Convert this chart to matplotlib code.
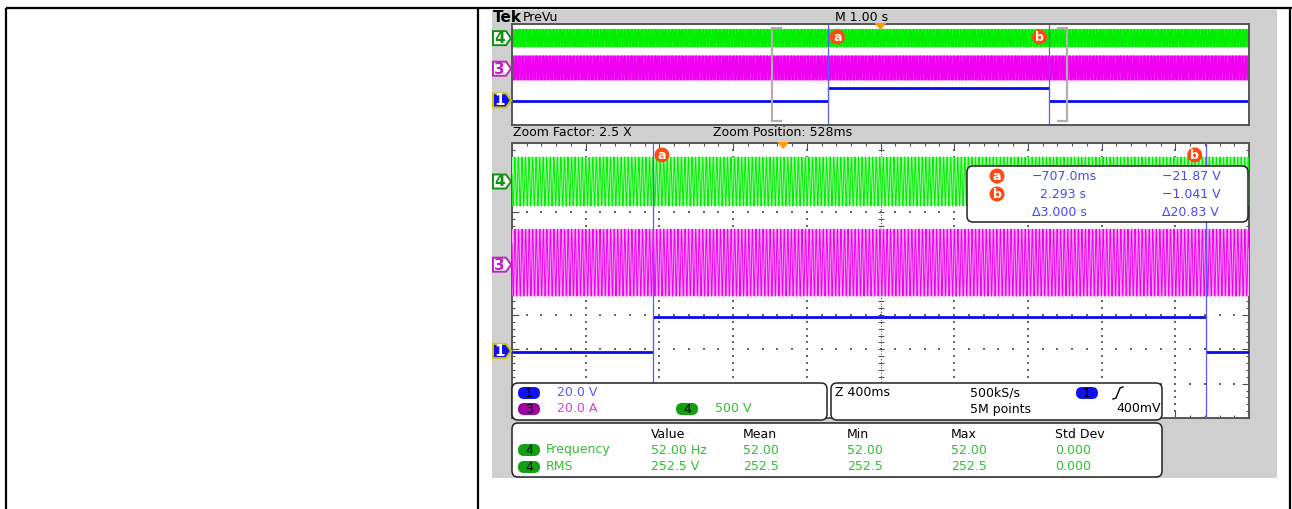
import numpy as np
import matplotlib.pyplot as plt
from matplotlib.patches import FancyBboxPatch, Polygon, Rectangle, Circle

W, H = 1292, 509

# scope settings
prevu_tdiv = 1.0      # s/div (M 1.00 s)
zoom_tdiv = 0.4       # s/div (Z 400ms)
zoom_pos = 0.528      # s
cursor_a = -0.707     # s
cursor_b = 2.293      # s

ch1_scale = 20.0      # V/div
ch3_scale = 20.0      # A/div
ch4_scale = 500.0     # V/div
ch1_offset = -2.05    # div
ch3_offset = 0.46
ch4_offset = 2.88

ch1_low = -0.6        # V
ch1_high = 19.6       # V
ch3_dc = 1.2          # A
ch3_peak = 19.5       # A
ch4_freq = 52.0       # Hz
ch4_rms = 252.5       # V

header_cols = ["Value", "Mean", "Min", "Max", "Std Dev"]
freq_row = ["52.00 Hz", "52.00", "52.00", "52.00", "0.000"]
rms_row = ["252.5 V", "252.5", "252.5", "252.5", "0.000"]
cursor_rows = [("a", "\u2212707.0ms", "\u221221.87 V"),
               ("b", "2.293 s", "\u22121.041 V"),
               ("", "\u03943.000 s", "\u039420.83 V")]

GREEN = "#00ee00"
MAG = "#f000f0"
BLUE = "#0a0af0"
CURS = "#5a5aff"
ORANGE = "#ff4a10"
FONT = "DejaVu Sans"

fig = plt.figure(figsize=(W / 100, H / 100), dpi=100)
fig.patch.set_facecolor("white")


def px_axes(x0, y0, x1, y1, z):
    return fig.add_axes([x0 / W, 1 - y1 / H, (x1 - x0) / W, (y1 - y0) / H], zorder=z)


bg = px_axes(0, 0, W, H, 0)
bg.set_xlim(0, W)
bg.set_ylim(H, 0)
bg.axis("off")

# table borders
for seg in [([6, W], [8, 8]), ([6, 6], [8, H]), ([478, 478], [8, H]), ([1290, 1290], [8, H])]:
    bg.plot(seg[0], seg[1], color="black", lw=1.6, solid_capstyle="butt")

bg.add_patch(Rectangle((492, 10), 1277 - 492, 478 - 10, facecolor="#cfcfcf", edgecolor="none"))
bg.add_patch(Rectangle((512, 24), 1249 - 512, 125 - 24, facecolor="white", edgecolor="none"))
bg.text(493, 17, "Tek", fontsize=11, fontweight="bold", va="center", family=FONT)
bg.text(523, 17, "PreVu", fontsize=9, va="center", family=FONT)
bg.text(835, 17, "M 1.00 s", fontsize=9, va="center", family=FONT)
bg.text(513, 133, "Zoom Factor: 2.5 X", fontsize=9, va="center", family=FONT)
bg.text(713, 133, "Zoom Position: 528ms", fontsize=9, va="center", family=FONT)

# time and trace data
t = np.arange(-5.0, 5.0, 1.0 / (ch4_freq * 40))
v4 = ch4_rms * np.sqrt(2) * np.sin(2 * np.pi * ch4_freq * t)
i3 = ch3_dc + ch3_peak * np.sin(2 * np.pi * ch4_freq * t - 0.3)
y4 = ch4_offset + v4 / ch4_scale
y3 = ch3_offset + i3 / ch3_scale
y1_low = ch1_offset + ch1_low / ch1_scale
y1_high = ch1_offset + ch1_high / ch1_scale


def draw_traces(ax, t0, t1, lw, fill):
    if fill:
        ax.fill_between(t, ch4_offset - ch4_rms * np.sqrt(2) / ch4_scale,
                        ch4_offset + ch4_rms * np.sqrt(2) / ch4_scale,
                        color="#a8f5a8", lw=0)
        ax.fill_between(t, ch3_offset + (ch3_dc - ch3_peak) / ch3_scale,
                        ch3_offset + (ch3_dc + ch3_peak) / ch3_scale,
                        color="#f5a8f5", lw=0)
    ax.plot(t, y4, color=GREEN, lw=lw)
    ax.plot(t, y3, color=MAG, lw=lw)
    ax.hlines([y1_low, y1_high, y1_low], [t0, cursor_a, cursor_b], [cursor_a, cursor_b, t1],
              color=BLUE, lw=2.0)
    ax.vlines([cursor_a, cursor_b], min(y1_low, y1_high), max(y1_low, y1_high), color=BLUE, lw=0.8)
    ax.axvline(cursor_a, color=CURS, lw=0.9)
    ax.axvline(cursor_b, color=CURS, lw=0.9)
    ax.set_xlim(t0, t1)
    ax.set_ylim(-4, 4)
    ax.axis("off")


# PreVu window
pv = px_axes(512, 24, 1249, 125, 2)
pv.patch.set_alpha(0)
draw_traces(pv, -5 * prevu_tdiv, 5 * prevu_tdiv, 0.6, False)
pv.plot([zoom_pos - 5 * zoom_tdiv] * 2, [-3.7, 3.7], color="#b0b0b0", lw=1.6)
pv.plot([zoom_pos + 5 * zoom_tdiv] * 2, [-3.7, 3.7], color="#b0b0b0", lw=1.6)
for xx, d in [(zoom_pos - 5 * zoom_tdiv, 0.12), (zoom_pos + 5 * zoom_tdiv, -0.12)]:
    pv.plot([xx, xx + d], [3.7, 3.7], color="#b0b0b0", lw=1.6)
    pv.plot([xx, xx + d], [-3.7, -3.7], color="#b0b0b0", lw=1.6)
pv_frame = px_axes(512, 24, 1249, 125, 3)
pv_frame.patch.set_alpha(0)
pv_frame.set_xticks([])
pv_frame.set_yticks([])
for s in pv_frame.spines.values():
    s.set_color("#555555")
    s.set_linewidth(1.4)

# main zoom window: graticule
grid = px_axes(512, 143, 1249, 418, 1)
grid.set_facecolor("white")
grid.set_xlim(0, 10)
grid.set_ylim(-4, 4)
gx = [(x, y) for x in range(1, 10) for y in np.arange(-4, 4.01, 0.2) if x != 5]
gy = [(x, y) for y in range(-3, 4) for x in np.arange(0, 10.01, 0.2) if y != 0]
pts = np.array(gx + gy)
grid.scatter(pts[:, 0], pts[:, 1], s=0.7, color="#666666", marker="s", lw=0)
cx = np.arange(0, 10.01, 0.2)
cy = np.arange(-4, 4.01, 0.2)
grid.plot([0, 10], [0, 0], color="#505050", lw=0.8, ls=(0, (1, 1.5)))
grid.plot([5, 5], [-4, 4], color="#505050", lw=0.8, ls=(0, (1, 1.5)))
grid.scatter(cx, np.zeros_like(cx), marker="|", s=14, color="#505050", lw=0.7)
grid.scatter(np.full_like(cy, 5), cy, marker="_", s=14, color="#505050", lw=0.7)
grid.set_xticks(range(11))
grid.set_yticks(range(-4, 5))
grid.set_xticks(cx, minor=True)
grid.set_yticks(cy, minor=True)
grid.tick_params(which="both", direction="in", top=True, right=True, labelbottom=False,
                 labelleft=False, color="#505050", width=0.8)
grid.tick_params(which="major", length=5)
grid.tick_params(which="minor", length=2.5)
for s in grid.spines.values():
    s.set_color("#555555")
    s.set_linewidth(1.4)

main = px_axes(512, 143, 1249, 418, 2)
main.patch.set_alpha(0)
draw_traces(main, zoom_pos - 5 * zoom_tdiv, zoom_pos + 5 * zoom_tdiv, 0.7, True)

# overlay for markers, readouts and boxes
ov = px_axes(0, 0, W, H, 10)
ov.set_xlim(0, W)
ov.set_ylim(H, 0)
ov.axis("off")
ov.patch.set_alpha(0)


def div_to_px(div, top, bottom):
    return top + (4 - div) / 8 * (bottom - top)


def ch_marker(y, label, edge, face, tc):
    ov.add_patch(Polygon([(493, y - 7), (506, y - 7), (511, y), (506, y + 7), (493, y + 7)],
                         closed=True, facecolor=face, edgecolor=edge, lw=1.4))
    ov.text(499.5, y + 0.5, label, color=tc, fontsize=11, fontweight="bold", ha="center",
            va="center", family=FONT)


for top, bottom in [(24, 125), (143, 418)]:
    ch_marker(div_to_px(ch4_offset, top, bottom), "4", "#109010", "white", "#109010")
    ch_marker(div_to_px(ch3_offset, top, bottom), "3", "#c020c0", "white", "#c020c0")
    ch_marker(div_to_px(ch1_offset, top, bottom), "1", "#d0c000", "#1010f0", "white")


def trig_mark(x, y):
    ov.add_patch(Polygon([(x - 6, y - 4), (x + 6, y - 4), (x, y + 3)], closed=True,
                         facecolor="#ff9a00", edgecolor="none"))


def cursor_dot(x, y, lab):
    ov.add_patch(Circle((x, y), 7.5, facecolor=ORANGE, edgecolor="none"))
    ov.text(x, y + 0.5, lab, color="white", fontsize=9, fontweight="bold", ha="center",
            va="center", family=FONT)


def t_to_px(tt, t0, t1):
    return 512 + (tt - t0) / (t1 - t0) * (1249 - 512)


trig_mark(t_to_px(0, -5, 5), 27)
trig_mark(t_to_px(0, zoom_pos - 5 * zoom_tdiv, zoom_pos + 5 * zoom_tdiv), 146)
cursor_dot(t_to_px(cursor_a, -5, 5) + 9, 37, "a")
cursor_dot(t_to_px(cursor_b, -5, 5) - 10, 37, "b")
cursor_dot(t_to_px(cursor_a, zoom_pos - 2, zoom_pos + 2) + 9, 155, "a")
cursor_dot(t_to_px(cursor_b, zoom_pos - 2, zoom_pos + 2) - 11, 155, "b")


def rbox(x0, y0, x1, y1):
    ov.add_patch(FancyBboxPatch((x0, y0), x1 - x0, y1 - y0,
                                boxstyle="round,pad=0,rounding_size=6",
                                facecolor="white", edgecolor="#222222", lw=1.1))


def pill(x, y, lab, face, tc="black"):
    ov.add_patch(FancyBboxPatch((x - 11, y - 6), 22, 12,
                                boxstyle="round,pad=0,rounding_size=6",
                                facecolor=face, edgecolor="none"))
    ov.text(x, y + 0.5, lab, color=tc, fontsize=9, ha="center", va="center", family=FONT)


# cursor readout
rbox(967, 166, 1248, 222)
for k, (lab, tv, vv) in enumerate(cursor_rows):
    y = 176 + 18 * k
    if lab:
        cursor_dot(997, y, lab)
    ov.text(1032 if k != 1 else 1040, y, tv, color="#4848ff", fontsize=9, va="center", family=FONT)
    ov.text(1162, y, vv, color="#4848ff", fontsize=9, va="center", family=FONT)

# channel / timebase boxes
rbox(512, 383, 827, 420)
pill(529, 393, "1", "#1010f0")
ov.text(557, 393, "20.0 V", color="#5a5aff", fontsize=9, va="center", family=FONT)
pill(529, 409, "3", "#a000a0")
ov.text(557, 409, "20.0 A", color="#d840d8", fontsize=9, va="center", family=FONT)
pill(687, 409, "4", "#10a010")
ov.text(715, 409, "500 V", color="#30c030", fontsize=9, va="center", family=FONT)

rbox(831, 383, 1162, 420)
ov.text(835, 393, "Z 400ms", fontsize=9, va="center", family=FONT)
ov.text(970, 393, "500kS/s", fontsize=9, va="center", family=FONT)
ov.text(970, 409, "5M points", fontsize=9, va="center", family=FONT)
pill(1087, 393, "1", "#1010f0")
ov.plot([1113, 1116, 1120, 1123], [399, 398, 388, 387], color="black", lw=1)
ov.text(1161, 409, "400mV", fontsize=9, va="center", ha="right", family=FONT)

# measurements
rbox(512, 423, 1162, 477)
col_x = [651, 743, 847, 951, 1055]
for x, h in zip(col_x, header_cols):
    ov.text(x, 434, h, fontsize=9, va="center", family=FONT)
for y, name, row in [(450, "Frequency", freq_row), (467, "RMS", rms_row)]:
    pill(529, y, "4", "#10a010")
    ov.text(546, y, name, color="#30c030", fontsize=9, va="center", family=FONT)
    for x, v in zip(col_x, row):
        ov.text(x, y, v, color="#30c030", fontsize=9, va="center", family=FONT)

fig.savefig("out.png", dpi=100)
